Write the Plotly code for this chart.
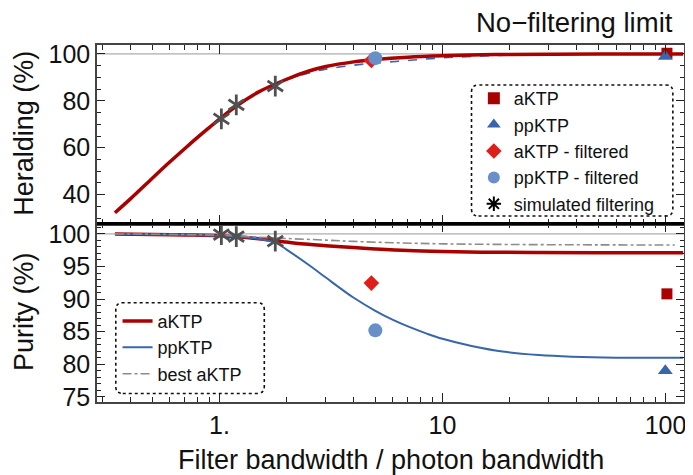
import plotly.graph_objects as go

# ---------------- data ----------------
# Heralding efficiency curves (top panel)
her_a_x = [0.34, 0.4, 0.5, 0.6, 0.7, 0.8, 0.9, 1.0, 1.2, 1.5, 2.0, 2.5, 3.0, 4.0, 5.0, 7.0, 10, 15, 20, 30, 50, 120]
her_a_y = [32.3, 38.3, 47.0, 54.0, 59.7, 64.5, 68.6, 72.2, 78.0, 83.8, 89.2, 92.6, 94.6, 96.6, 97.6, 98.6, 99.2, 99.6, 99.8, 99.9, 100, 100]
her_p_x = [0.34, 0.4, 0.5, 0.6, 0.7, 0.8, 0.9, 1.0, 1.2, 1.5, 2.0, 2.5, 3.0, 4.0, 5.0, 7.0, 10, 15, 20, 30, 50, 120]
her_p_y = [32.3, 38.3, 47.0, 54.0, 59.7, 64.5, 68.6, 72.2, 78.0, 83.7, 88.9, 91.8, 93.5, 95.2, 96.1, 97.2, 98.3, 99.1, 99.5, 99.8, 99.95, 100]

# Purity curves (bottom panel)
pur_a_x = [0.34, 0.5, 0.7, 1.0, 1.2, 1.5, 2.0, 2.5, 3.0, 4.0, 5.0, 7.0, 10, 15, 25, 50, 120]
pur_a_y = [100, 99.93, 99.85, 99.72, 99.55, 99.25, 98.75, 98.4, 98.2, 97.9, 97.7, 97.45, 97.3, 97.2, 97.15, 97.1, 97.1]
pur_p_x = [0.34, 0.5, 0.7, 1.0, 1.2, 1.5, 1.8, 2.0, 2.5, 3.0, 3.5, 4.0, 5.0, 6.0, 7.0, 8.5, 10, 13.5, 19, 27, 38, 60, 120]
pur_p_y = [100, 99.93, 99.85, 99.72, 99.6, 99.25, 98.6, 97.6, 95.3, 93.3, 91.6, 90.2, 88.2, 86.8, 85.8, 84.7, 83.9, 82.8, 81.9, 81.4, 81.15, 81.0, 81.0]
best_a_x = [0.34, 1.0, 1.5, 2.0, 3.0, 4.0, 6.0, 10, 20, 50, 110]
best_a_y = [100, 99.8, 99.5, 99.3, 99.05, 98.85, 98.65, 98.48, 98.38, 98.32, 98.3]

# Measured / simulated points
aktp_x = [101.5]
aktp_her = [100.3]
aktp_pur = [90.8]
ppktp_x = [99.8]
ppktp_her = [98.9]
ppktp_pur = [79.0]
aktpf_x = [4.8]
aktpf_her = [97.2]
aktpf_pur = [92.45]
ppktpf_x = [5.0]
ppktpf_her = [98.2]
ppktpf_pur = [85.2]
sim_x = [1.02, 1.19, 1.78]
sim_her = [72.3, 78.3, 86.3]
sim_pur = [99.9, 99.6, 98.9]

# tick labels
x_tickvals = [1, 10, 100]
x_ticktext = ["1.", "10", "100"]
her_ticks = [40, 60, 80, 100]
pur_ticks = [75, 80, 85, 90, 95, 100]

# ---------------- styles ----------------
RED = "rgb(170,0,0)"
BLUE = "rgb(56,102,172)"
DIAM = "rgb(224,30,25)"
CIRC = "rgb(105,143,200)"
STAR = "rgb(80,80,80)"
FONT = "Liberation Sans, Arial, sans-serif"

fig = go.Figure()

# top panel curves
fig.add_trace(go.Scatter(x=her_p_x, y=her_p_y, mode="lines", line=dict(color=BLUE, width=1.6, dash="dash", shape="spline"),
                         xaxis="x2", yaxis="y2", showlegend=False))
fig.add_trace(go.Scatter(x=her_a_x, y=her_a_y, mode="lines", line=dict(color=RED, width=3.5, shape="spline"),
                         xaxis="x2", yaxis="y2", showlegend=False))
# bottom panel curves
fig.add_trace(go.Scatter(x=pur_a_x, y=pur_a_y, mode="lines", name="aKTP", line=dict(color=RED, width=3.5, shape="spline"),
                         xaxis="x", yaxis="y", legend="legend2"))
fig.add_trace(go.Scatter(x=pur_p_x, y=pur_p_y, mode="lines", name="ppKTP", line=dict(color=BLUE, width=2, shape="spline"),
                         xaxis="x", yaxis="y", legend="legend2"))
fig.add_trace(go.Scatter(x=best_a_x, y=best_a_y, mode="lines", name="best aKTP",
                         line=dict(color="rgb(140,140,140)", width=1.6, dash="dashdot", shape="spline"),
                         xaxis="x", yaxis="y", legend="legend2"))

# markers
def pts(x, y, ax, ay, name, sym, color, size, show, group, lw=0):
    return go.Scatter(x=x, y=y, mode="markers", name=name, xaxis=ax, yaxis=ay, legendgroup=group,
                      showlegend=show, legend="legend",
                      marker=dict(symbol=sym, color=color, size=size, line=dict(width=lw, color=color)))

fig.add_trace(pts(aktp_x, aktp_her, "x2", "y2", "aKTP", "square", RED, 11, True, "a"))
fig.add_trace(pts(ppktp_x, ppktp_her, "x2", "y2", "ppKTP", "triangle-up", BLUE, 13, True, "p"))
fig.add_trace(pts(aktpf_x, aktpf_her, "x2", "y2", "aKTP - filtered", "diamond", DIAM, 12, True, "af"))
fig.add_trace(pts(ppktpf_x, ppktpf_her, "x2", "y2", "ppKTP - filtered", "circle", CIRC, 14, True, "pf"))
# stars: six-armed asterisk built from two Y symbols
fig.add_trace(pts(sim_x, sim_her, "x2", "y2", "simulated filtering", "y-up-open", STAR, 13, False, "s", 2.8))
fig.add_trace(pts(sim_x, sim_her, "x2", "y2", "simulated filtering", "y-down-open", STAR, 13, False, "s", 2.8))
fig.add_trace(go.Scatter(x=[None], y=[None], mode="markers", name="simulated filtering", xaxis="x2", yaxis="y2",
                         legendgroup="s", legend="legend",
                         marker=dict(symbol="asterisk-open", size=12, color="black", line=dict(width=2, color="black"))))

fig.add_trace(pts(aktp_x, aktp_pur, "x", "y", "aKTP", "square", RED, 11, False, "a"))
fig.add_trace(pts(ppktp_x, ppktp_pur, "x", "y", "ppKTP", "triangle-up", BLUE, 13, False, "p"))
fig.add_trace(pts(aktpf_x, aktpf_pur, "x", "y", "aKTP - filtered", "diamond", DIAM, 12, False, "af"))
fig.add_trace(pts(ppktpf_x, ppktpf_pur, "x", "y", "ppKTP - filtered", "circle", CIRC, 14, False, "pf"))
fig.add_trace(pts(sim_x, sim_pur, "x", "y", "simulated filtering", "y-up-open", STAR, 13, False, "s", 2.8))
fig.add_trace(pts(sim_x, sim_pur, "x", "y", "simulated filtering", "y-down-open", STAR, 13, False, "s", 2.8))

minor_x = [0.3, 0.4, 0.5, 0.6, 0.7, 0.8, 0.9, 2, 3, 4, 5, 6, 7, 8, 9, 20, 30, 40, 50, 60, 70, 80, 90]
xr = [-0.549, 2.083]
xcommon = dict(type="log", range=xr, tickmode="array", tickvals=x_tickvals, ticks="inside", ticklen=9,
               tickwidth=1.3, tickcolor="#222", showline=True, linecolor="#444", linewidth=1.5,
               mirror="ticks", showgrid=False, zeroline=False,
               minor=dict(tickmode="array", tickvals=minor_x, ticks="inside", ticklen=5, tickcolor="#222", tickwidth=1,
                          showgrid=False))
ycommon = dict(ticks="inside", ticklen=8, tickwidth=1.3, tickcolor="#222", showline=True, linecolor="#444",
               linewidth=1.5, mirror="ticks", showgrid=False, zeroline=False,
               tickfont=dict(size=25, color="#111", family=FONT))

# page body adds an 8px offset; the figure is sized to fit the 693x475 window
fig.update_layout(
    width=685, height=467,
    margin=dict(l=89, r=7, t=37, b=73),
    paper_bgcolor="white", plot_bgcolor="white",
    font=dict(family=FONT, color="#111"),
    xaxis=dict(**xcommon, anchor="y", tickfont=dict(size=25, color="#111", family=FONT), ticktext=x_ticktext,
               showticklabels=True),
    xaxis2=dict(**xcommon, anchor="y2", matches="x", showticklabels=False),
    yaxis=dict(**ycommon, domain=[0, 0.5], range=[74.2, 101.6], tickmode="array", tickvals=pur_ticks,
               minor=dict(dtick=1, ticks="inside", ticklen=4, tickcolor="#222")),
    yaxis2=dict(**ycommon, domain=[0.5, 1], range=[27.7, 103.8], tickmode="array", tickvals=her_ticks,
                minor=dict(dtick=5, tick0=0, ticks="inside", ticklen=4, tickcolor="#222")),
    legend=dict(x=0.642, y=0.902, xanchor="left", yanchor="top", bgcolor="rgba(0,0,0,0)",
                font=dict(size=18, family=FONT, color="#111"), itemsizing="constant", tracegroupgap=0),
    legend2=dict(x=0.035, y=0.278, xanchor="left", yanchor="top", bgcolor="rgba(0,0,0,0)",
                 font=dict(size=18, family=FONT, color="#111"), tracegroupgap=0),
)

# reference lines at 100 %
fig.add_shape(type="line", xref="x domain", yref="y2", x0=0, x1=1, y0=100, y1=100, line=dict(color="#999", width=1), layer="below")
fig.add_shape(type="line", xref="x domain", yref="y", x0=0, x1=1, y0=100, y1=100, line=dict(color="#999", width=1), layer="below")
# thick separator between panels
fig.add_shape(type="line", xref="paper", yref="paper", x0=0, x1=1, y0=0.5, y1=0.5, line=dict(color="black", width=3))

# dotted rounded legend boxes
def rbox(x0, y0, x1, y1, rpx=7):
    rx = rpx / 589.0
    ry = rpx / 357.0
    return (f"M {x0+rx},{y0} L {x1-rx},{y0} Q {x1},{y0} {x1},{y0+ry} L {x1},{y1-ry} Q {x1},{y1} {x1-rx},{y1} "
            f"L {x0+rx},{y1} Q {x0},{y1} {x0},{y1-ry} L {x0},{y0+ry} Q {x0},{y0} {x0+rx},{y0} Z")

fig.add_shape(type="path", xref="paper", yref="paper", path=rbox(0.638, 0.521, 0.981, 0.888),
              line=dict(color="#111", width=1.6, dash="dot"))
fig.add_shape(type="path", xref="paper", yref="paper", path=rbox(0.032, 0.024, 0.285, 0.278),
              line=dict(color="#111", width=1.6, dash="dot"))

# texts
fig.add_annotation(text="No\u2212filtering limit", xref="paper", yref="paper", x=0.985, y=1.064,
                   xanchor="right", yanchor="middle", showarrow=False, font=dict(size=27.5, family=FONT, color="#111"))
fig.add_annotation(text="Heralding (%)", xref="paper", yref="paper", x=-0.1256, y=0.752, textangle=-90,
                   xanchor="center", yanchor="middle", showarrow=False, font=dict(size=27, family=FONT, color="#111"))
fig.add_annotation(text="Purity (%)", xref="paper", yref="paper", x=-0.1256, y=0.253, textangle=-90,
                   xanchor="center", yanchor="middle", showarrow=False, font=dict(size=27, family=FONT, color="#111"))
fig.add_annotation(text="Filter bandwidth / photon bandwidth", xref="paper", yref="paper", x=0.5, y=-0.162,
                   xanchor="center", yanchor="middle", showarrow=False, font=dict(size=27, family=FONT, color="#111"))

fig.write_html("out.html")
